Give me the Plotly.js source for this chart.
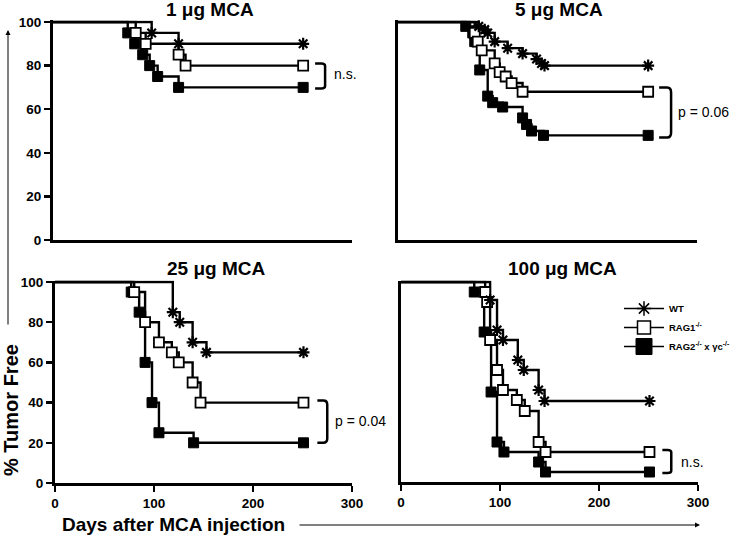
<!DOCTYPE html>
<html>
<head>
<meta charset="utf-8">
<script src="https://cdn.plot.ly/plotly-3.0.1.min.js"></script>
<style>html,body{margin:0;padding:0;background:#fff;}#chart{width:733px;height:539px;}</style>
</head>
<body>
<div id="chart"></div>
<script>
// ---------- data (days after injection, % tumor free) ----------
const panelTitles = ["1 \u03bcg MCA", "5 \u03bcg MCA", "25 \u03bcg MCA", "100 \u03bcg MCA"];
const seriesNames = ["WT", "RAG1<sup>-/-</sup>", "RAG2<sup>-/-</sup> x \u03b3c<sup>-/-</sup>"];
const xTicks = [0, 100, 200, 300];
const yTicks = [0, 20, 40, 60, 80, 100];
const pValues = ["n.s.", "p = 0.06", "p = 0.04", "n.s."];

// 1 ug MCA
const p1_wt_days   = [99, 126, 251];
const p1_wt_pct    = [95, 90, 90];
const p1_rag1_days = [83, 93, 126, 133, 251];
const p1_rag1_pct  = [95, 90, 85, 80, 80];
const p1_rag2_days = [75, 82, 90, 97, 105, 126, 251];
const p1_rag2_pct  = [95, 90, 85, 80, 75, 70, 70];

// 5 ug MCA
const p2_wt_days   = [81, 87, 90, 97, 110, 125, 139, 144, 147, 251];
const p2_wt_pct    = [98, 96.5, 95, 91, 88, 85.5, 83, 81, 80, 80];
const p2_rag1_days = [77, 80, 84, 97, 102, 108, 114, 125, 251];
const p2_rag1_pct  = [95, 91, 87, 81, 77, 75, 72, 68, 68];
const p2_rag2_days = [68, 75, 77, 82, 90, 95, 105, 125, 129, 134, 146, 251];
const p2_rag2_pct  = [98, 95, 91, 78, 66, 63, 61, 56, 53, 50, 48, 48];

// 25 ug MCA
const p3_wt_days   = [119, 126, 139, 153, 251];
const p3_wt_pct    = [85, 80, 70, 65, 65];
const p3_rag1_days = [80, 91, 105, 118, 125, 139, 147, 251];
const p3_rag1_pct  = [95, 80, 70, 65, 60, 50, 40, 40];
const p3_rag2_days = [77, 85, 91, 98, 105, 140, 251];
const p3_rag2_pct  = [95, 85, 60, 40, 25, 20, 20];

// 100 ug MCA
const p4_wt_days   = [90, 97, 103, 118, 124, 139, 145, 251];
const p4_wt_pct    = [91, 76, 71, 61, 56, 46, 40.5, 40.5];
const p4_rag1_days = [85, 87, 90, 97, 103, 117, 125, 139, 146, 251];
const p4_rag1_pct  = [95, 90, 71, 56, 46, 41, 35.5, 20, 15, 15];
const p4_rag2_days = [74, 84, 91, 97, 104, 139, 146, 251];
const p4_rag2_pct  = [95, 75, 45, 20, 15, 10, 5, 5];

// ---------- layout helpers ----------
const W = 733, H = 539;
const YMAX = 100.7;
const FONT = "Liberation Sans, Arial, sans-serif";
const px2x = p => p / W;
const px2y = p => 1 - p / H;

// pixel geometry of each panel: x pixel at day 0 and 300, y pixel at 0% and 100%
const panels = [
  {x0: 53,  x300: 352, y0: 240, y100: 22,  xl: false, yl: true},
  {x0: 398, x300: 697, y0: 240, y100: 22,  xl: false, yl: false},
  {x0: 55,  x300: 352, y0: 483, y100: 282, xl: true,  yl: true},
  {x0: 401, x300: 698, y0: 482, y100: 282, xl: true,  yl: false}
];

const tickFont = {family: FONT, size: 13.5, weight: "bold", color: "#000"};
const layout = {
  width: W, height: H,
  margin: {l: 0, r: 0, t: 0, b: 0, pad: 0, autoexpand: false},
  paper_bgcolor: "#fff", plot_bgcolor: "#fff",
  showlegend: true,
  legend: {x: px2x(619), y: px2y(294), xanchor: "left", yanchor: "top",
           bgcolor: "rgba(0,0,0,0)", borderwidth: 0, itemwidth: 40, tracegroupgap: 0,
           font: {family: FONT, size: 9.5, weight: "bold", color: "#000"}},
  annotations: [], shapes: []
};

panels.forEach((p, i) => {
  const n = i === 0 ? "" : String(i + 1);
  const pxPer = (p.y0 - p.y100) / 100;
  const topPx = p.y0 - YMAX * pxPer;
  layout["xaxis" + n] = {
    domain: [px2x(p.x0), px2x(p.x300)], range: [0, 300], anchor: "y" + n,
    showline: true, linewidth: 3, linecolor: "#000",
    ticks: p.xl ? "outside" : "", tickvals: xTicks, ticklen: 6, tickwidth: 2.5, tickcolor: "#000",
    showticklabels: p.xl, tickfont: tickFont, showgrid: false, zeroline: false, fixedrange: true
  };
  layout["yaxis" + n] = {
    domain: [px2y(p.y0), px2y(topPx)], range: [0, YMAX], anchor: "x" + n,
    showline: true, linewidth: 3, linecolor: "#000",
    ticks: p.yl ? "outside" : "", tickvals: yTicks, ticklen: 6, tickwidth: 2.5, tickcolor: "#000",
    showticklabels: p.yl, tickfont: tickFont, showgrid: false, zeroline: false, fixedrange: true
  };
  // panel title
  layout.annotations.push({
    xref: "paper", yref: "paper",
    x: px2x([210, 559, 216, 562][i]), y: px2y([10, 10, 268, 268][i]),
    xanchor: "center", yanchor: "middle", showarrow: false,
    text: panelTitles[i], font: {family: FONT, size: 19, weight: "bold", color: "#000"}
  });
});

// ---------- traces ----------
const data = [];
const panelData = [
  [[p1_wt_days, p1_wt_pct], [p1_rag1_days, p1_rag1_pct], [p1_rag2_days, p1_rag2_pct]],
  [[p2_wt_days, p2_wt_pct], [p2_rag1_days, p2_rag1_pct], [p2_rag2_days, p2_rag2_pct]],
  [[p3_wt_days, p3_wt_pct], [p3_rag1_days, p3_rag1_pct], [p3_rag2_days, p3_rag2_pct]],
  [[p4_wt_days, p4_wt_pct], [p4_rag1_days, p4_rag1_pct], [p4_rag2_days, p4_rag2_pct]]
];
const markerStyles = [
  {symbol: "asterisk-open", size: 10, color: "#000", line: {color: "#000", width: 2.2}},
  {symbol: "square", size: 10, color: "#fff", line: {color: "#000", width: 1.8}},
  {symbol: "square", size: 10, color: "#000", line: {color: "#000", width: 1}}
];
const legendMarkers = [
  {symbol: "asterisk-open", size: 12, color: "#000", line: {color: "#000", width: 1.5}},
  {symbol: "square", size: 13, color: "#fff", line: {color: "#000", width: 1.5}},
  {symbol: "square", size: 16, color: "#000", line: {color: "#000", width: 1}}
];

panelData.forEach((series, i) => {
  const n = i === 0 ? "" : String(i + 1);
  // lines (step curves start at 100% on day 0)
  [2, 1, 0].forEach(s => {
    const [d, v] = series[s];
    data.push({
      type: "scatter", mode: "lines", xaxis: "x" + n, yaxis: "y" + n,
      x: [0].concat(d), y: [100].concat(v),
      line: {shape: "hv", color: "#000", width: 2.4},
      showlegend: false, hoverinfo: "skip"
    });
  });
  [2, 1, 0].forEach(s => {
    const [d, v] = series[s];
    data.push({
      type: "scatter", mode: "markers", xaxis: "x" + n, yaxis: "y" + n,
      x: d, y: v, marker: markerStyles[s], cliponaxis: false,
      showlegend: false, hoverinfo: "skip"
    });
  });
});

// legend entries
seriesNames.forEach((nm, s) => {
  data.push({
    type: "scatter", mode: "lines+markers", xaxis: "x4", yaxis: "y4",
    x: [null], y: [null], name: nm,
    line: {color: "#000", width: 1.5}, marker: legendMarkers[s], showlegend: true
  });
});

// ---------- significance brackets ----------
const brackets = [
  {xl: 263, xr: 273, yt: 81, yb: 69.5, tx: 280, ty: 76},
  {xl: 262, xr: 274, yt: 70, yb: 47, tx: 279, ty: 58.7},
  {xl: 265, xr: 275, yt: 41, yb: 20, tx: 281, ty: 31},
  {xl: 264, xr: 273, yt: 16, yb: 4.5, tx: 281, ty: 10}
];
brackets.forEach((b, i) => {
  const n = i === 0 ? "" : String(i + 1);
  const rx = 4, ry = (b.yt - b.yb) * 0.1;
  layout.shapes.push({
    type: "path", xref: "x" + n, yref: "y" + n,
    path: `M ${b.xl},${b.yt} L ${b.xr - rx},${b.yt} Q ${b.xr},${b.yt} ${b.xr},${b.yt - ry} ` +
          `L ${b.xr},${b.yb + ry} Q ${b.xr},${b.yb} ${b.xr - rx},${b.yb} L ${b.xl},${b.yb}`,
    line: {color: "#000", width: 2.5}
  });
  layout.annotations.push({
    xref: "x" + n, yref: "y" + n, x: b.tx, y: b.ty, xanchor: "left", yanchor: "middle",
    showarrow: false, text: pValues[i], font: {family: FONT, size: 14, color: "#000"}
  });
});

// ---------- shared axis labels with arrows ----------
layout.annotations.push(
  {xref: "paper", yref: "paper", x: px2x(11), y: px2y(410), textangle: -90,
   xanchor: "center", yanchor: "middle", showarrow: false, text: "% Tumor Free",
   font: {family: FONT, size: 20, weight: "bold", color: "#000"}},
  {xref: "paper", yref: "paper", x: px2x(60), y: px2y(524),
   xanchor: "left", yanchor: "middle", showarrow: false, text: "Days after MCA injection",
   font: {family: FONT, size: 19, weight: "bold", color: "#000"}},
  {xref: "paper", yref: "paper", x: px2x(8), y: px2y(30), text: "", showarrow: true,
   axref: "pixel", ayref: "pixel", ax: 0, ay: 296,
   arrowhead: 2, arrowsize: 1, arrowwidth: 1, arrowcolor: "#000"},
  {xref: "paper", yref: "paper", x: px2x(700), y: px2y(525), text: "", showarrow: true,
   axref: "pixel", ayref: "pixel", ax: -402, ay: 0,
   arrowhead: 2, arrowsize: 1, arrowwidth: 1, arrowcolor: "#000"}
);

Plotly.newPlot("chart", data, layout, {displayModeBar: false, staticPlot: true});
</script>
</body>
</html>
